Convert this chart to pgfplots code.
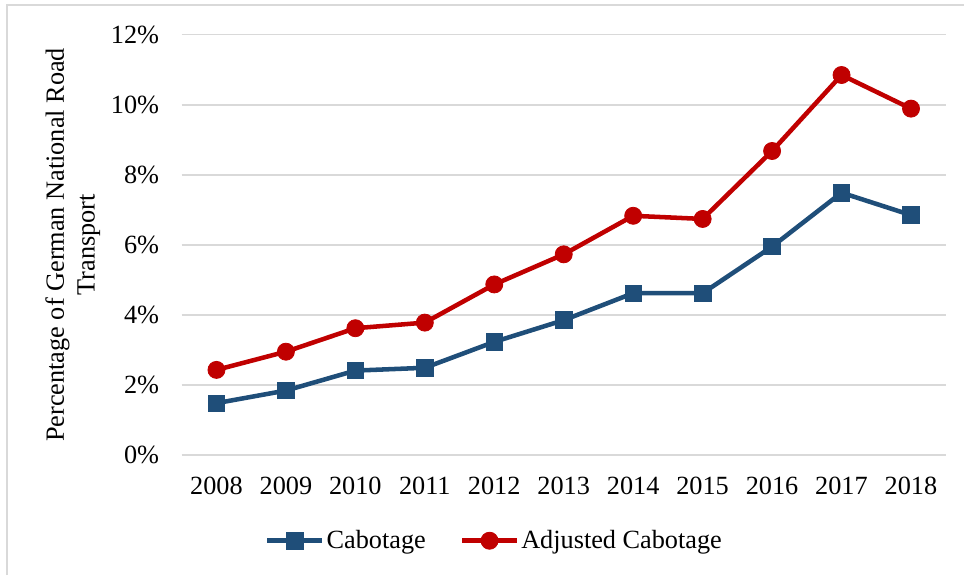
\documentclass[border=0pt]{standalone}
\usepackage{fontspec}
\setmainfont{Liberation Serif}
\usepackage{pgfplots}
\pgfplotsset{compat=1.18}
\definecolor{cabblue}{HTML}{1F4E79}
\definecolor{adjred}{HTML}{C00000}
\definecolor{gridgray}{HTML}{D9D9D9}
\newcommand{\chartfont}{\fontsize{19.7}{23}\selectfont}

\begin{document}
\begin{tikzpicture}
\useasboundingbox (0,0) rectangle (723pt,431.25pt);
% outer frame (top and left edges)
\draw[gridgray, line width=1.1pt] (5.4pt,0pt) -- (5.4pt,427.5pt) -- (723pt,427.5pt);
\begin{axis}[
  at={(136.3pt,90pt)}, anchor=south west,
  scale only axis, width=573pt, height=315.2pt,
  xmin=2007.5, xmax=2018.5, ymin=0, ymax=12,
  xtick={2008,...,2018},
  xticklabels={2008,2009,2010,2011,2012,2013,2014,2015,2016,2017,2018},
  ytick={0,2,...,12},
  yticklabels={0\%,2\%,4\%,6\%,8\%,10\%,12\%},
  axis line style={draw=none},
  major tick length=0pt,
  ymajorgrids, grid style={gridgray, line width=1.1pt},
  tick label style={font=\chartfont},
  x tick label style={yshift=-13pt},
  y tick label style={xshift=-13.5pt},
  ylabel={Percentage of German National Road\\Transport},
  every axis y label/.style={at={(axis description cs:-0.1425,0.5)}, rotate=90, anchor=center, align=center, font=\chartfont},
  clip=false,
  legend columns=2,
  legend style={at={(0.4094,-0.204)}, anchor=center, draw=none, fill=none, font=\chartfont,
    nodes={inner xsep=1.5pt},
    /tikz/every even column/.append style={column sep=24pt}},
  legend image code/.code={\draw[mark repeat=2,mark phase=2] plot coordinates {(0pt,0pt) (20.6pt,0pt) (41.2pt,0pt)};},
]
\addplot[cabblue, line width=3.4pt, mark=square*, mark size=6.2pt, mark options={solid, line width=0.6pt}]
  coordinates {(2008,1.48) (2009,1.84) (2010,2.41) (2011,2.49) (2012,3.23) (2013,3.85) (2014,4.62) (2015,4.62) (2016,5.95) (2017,7.49) (2018,6.85)};
\addlegendentry{Cabotage}
\addplot[adjred, line width=3.4pt, mark=*, mark size=6.4pt, mark options={solid, line width=0.6pt}]
  coordinates {(2008,2.43) (2009,2.95) (2010,3.62) (2011,3.78) (2012,4.87) (2013,5.73) (2014,6.83) (2015,6.74) (2016,8.68) (2017,10.85) (2018,9.89)};
\addlegendentry{Adjusted Cabotage}
\end{axis}
\end{tikzpicture}
\end{document}
